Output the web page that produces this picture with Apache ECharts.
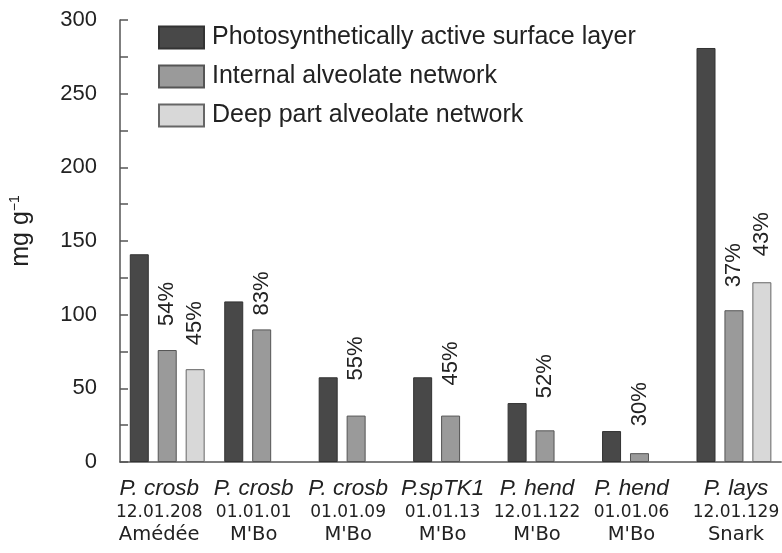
<!DOCTYPE html>
<html>
<head>
<meta charset="utf-8">
<script src="https://cdn.jsdelivr.net/npm/echarts@6/dist/echarts.min.js"></script>
<style>
html,body{margin:0;padding:0;background:#fff;}
#c{width:782px;height:553px;}
</style>
</head>
<body>
<div id="c"></div>
<script>
var species = ['P. crosb', 'P. crosb', 'P. crosb', 'P.spTK1', 'P. hend', 'P. hend', 'P. lays'];
var codes = ['12.01.208', '01.01.01', '01.01.09', '01.01.13', '12.01.122', '01.01.06', '12.01.129'];
var sites = ['Amédée', "M'Bo", "M'Bo", "M'Bo", "M'Bo", "M'Bo", 'Snark'];
var seriesNames = ['Photosynthetically active surface layer', 'Internal alveolate network', 'Deep part alveolate network'];
var surface = [141, 109, 57.5, 57.5, 40, 21, 281];
var internal = [76, 90, 31.5, 31.5, 21.5, 6, 103];
var deep = [63, null, null, null, null, null, 122];
var internalPct = ['54%', '83%', '55%', '45%', '52%', '30%', '37%'];
var deepPct = ['45%', null, null, null, null, null, '43%'];
var internalLabelGap = [24, 14, 35, 30, 32, 27, 23];
var deepLabelGap = [24, null, null, null, null, null, 26];
var yTicks = [0, 50, 100, 150, 200, 250, 300];

var colors = ['#484848', '#9a9a9a', '#d8d8d8'];
var font = 'Liberation Sans, Arial, sans-serif';
var wideFont = 'DejaVu Sans, sans-serif';

function labelled(values, pcts, gaps) {
  return values.map(function (v, i) {
    if (v == null) return null;
    if (!pcts[i]) return v;
    return {
      value: v,
      label: {
        show: true, position: 'top', distance: gaps[i], rotate: 90,
        align: 'left', verticalAlign: 'middle',
        formatter: pcts[i], fontSize: 22, color: '#222', fontFamily: font
      }
    };
  });
}

var catData = species.map(function (s, i) {
  var item = { value: s + '\n' + codes[i] + '\n' + sites[i] };
  if (i === species.length - 1) item.textStyle = { padding: [0, 0, 0, 4] };
  return item;
});

var chart = echarts.init(document.getElementById('c'), null, { renderer: 'canvas' });
chart.setOption({
  animation: false,
  textStyle: { fontFamily: font },
  grid: { left: 118, right: 0, top: 20, bottom: 91, containLabel: false },
  legend: {
    orient: 'vertical', left: 158, top: 25, padding: 0,
    itemWidth: 45, itemHeight: 22, itemGap: 14,
    data: seriesNames,
    textStyle: { fontSize: 25, color: '#222', fontFamily: font, lineHeight: 22, padding: [0, 0, 0, 3] },
    icon: 'rect'
  },
  xAxis: {
    type: 'category',
    data: catData,
    axisLine: { lineStyle: { color: '#555', width: 1.5 } },
    axisTick: { show: false },
    axisLabel: {
      interval: 0, margin: 15, color: '#222',
      padding: [0, 16, 0, 0],
      formatter: function (v) {
        var p = v.split('\n');
        return '{a|' + p[0] + '}\n{b|' + p[1] + '}\n{c|' + p[2] + '}';
      },
      rich: {
        a: { fontSize: 22.5, fontStyle: 'italic', lineHeight: 24, color: '#222', fontFamily: font },
        b: { fontSize: 17, lineHeight: 24, color: '#222', fontFamily: wideFont },
        c: { fontSize: 19.5, lineHeight: 20, color: '#222', fontFamily: wideFont }
      }
    }
  },
  yAxis: {
    type: 'value', min: yTicks[0], max: yTicks[yTicks.length - 1], interval: 50,
    name: '{m|mg g}{s|−1}',
    nameLocation: 'middle', nameGap: 86, nameRotate: 90,
    nameTextStyle: {
      rich: {
        m: { fontSize: 25, color: '#222', fontFamily: font },
        s: { fontSize: 14, color: '#222', fontFamily: font, verticalAlign: 'top', padding: [0, 0, 12, 0] }
      },
      padding: [0, 0, 0, 20]
    },
    axisLine: { show: true, lineStyle: { color: '#555', width: 1.5 } },
    axisTick: { show: true, inside: true, length: 8, lineStyle: { color: '#555', width: 1.5 } },
    minorTick: { show: true, splitNumber: 2, length: 8, lineStyle: { color: '#555', width: 1.5 } },
    splitLine: { show: false },
    axisLabel: { fontSize: 22, color: '#222', margin: 23, fontFamily: font }
  },
  series: [
    { name: seriesNames[0], type: 'bar', barWidth: 19, barGap: '47%', data: surface,
      itemStyle: { color: colors[0], borderColor: '#333', borderWidth: 1 } },
    { name: seriesNames[1], type: 'bar', barWidth: 19, barGap: '47%', data: labelled(internal, internalPct, internalLabelGap),
      itemStyle: { color: colors[1], borderColor: '#555', borderWidth: 1 } },
    { name: seriesNames[2], type: 'bar', barWidth: 19, barGap: '47%', data: labelled(deep, deepPct, deepLabelGap),
      itemStyle: { color: colors[2], borderColor: '#666', borderWidth: 1 } }
  ]
});
</script>
</body>
</html>
